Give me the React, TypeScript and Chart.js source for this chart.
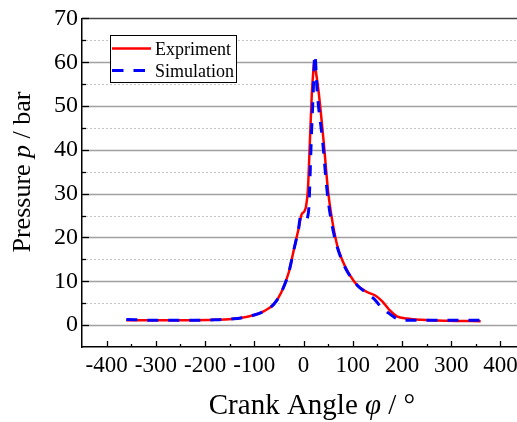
import React, { useEffect, useRef } from "react";
import { Chart, registerables } from "chart.js";
Chart.register(...registerables);

// ---- data ----
const expAngles = [-360, -300, -240, -180, -135, -100, -80, -60, -45, -30, -20, -10, -4, 2, 5, 9, 13, 17, 20, 22, 25, 31, 41, 50, 56, 68, 80, 90, 110, 130, 145, 160, 175, 190, 210, 240, 290, 360];
const expPressure = [1.1, 1.1, 1.1, 1.2, 1.5, 2.3, 3.2, 4.8, 7.5, 12, 17, 22, 25.2, 26, 27, 31, 42, 53, 58, 60.3, 58, 53, 41.8, 30.5, 25.5, 18.4, 14.5, 12.2, 9.0, 7.5, 6.8, 5.4, 3.4, 2.0, 1.5, 1.2, 1.0, 0.9];
const simAngles = [-360, -300, -240, -180, -135, -100, -80, -60, -45, -30, -20, -10, -6, 0, 6, 9, 11, 15.6, 19.7, 23, 28, 39, 48, 56, 68, 80, 90, 110, 130, 145, 156, 170, 183, 197, 240, 300, 360];
const simPressure = [1.3, 1.1, 1.1, 1.2, 1.5, 2.3, 3.2, 4.8, 7.5, 12, 17, 22, 24.8, 24.5, 24.1, 25, 27, 41.8, 53, 61.7, 53, 41.8, 30.5, 24, 18, 14.3, 12, 9, 7.2, 5.8, 4.3, 3.0, 1.9, 1.1, 1.1, 1.1, 1.1];
const seriesNames = ["Expriment", "Simulation"];
const seriesColors = ["#ff0000", "#0000ff"];
const xTickValues = [-400, -300, -200, -100, 0, 100, 200, 300, 400];
const yTickValues = [0, 10, 20, 30, 40, 50, 60, 70];
const xTitleParts = [["Crank Angle ", false], ["φ", true], [" / °", false]] as [string, boolean][];
const yTitleParts = [["Pressure ", false], ["p", true], [" / bar", false]] as [string, boolean][];

const FONT = '"Liberation Serif", "Times New Roman", serif';

function drawParts(ctx: CanvasRenderingContext2D, parts: [string, boolean][], size: number, cx: number, y: number) {
  const fonts = parts.map(([, it]) => `${it ? "italic " : ""}${size}px ${FONT}`);
  let total = 0;
  const widths = parts.map(([t], i) => {
    ctx.font = fonts[i];
    const w = ctx.measureText(t).width;
    total += w;
    return w;
  });
  let x = cx - total / 2;
  ctx.textAlign = "left";
  ctx.textBaseline = "alphabetic";
  parts.forEach(([t], i) => {
    ctx.font = fonts[i];
    ctx.fillText(t, x, y);
    x += widths[i];
  });
}

const framePlugin = {
  id: "framePlugin",
  beforeDatasetsDraw(chart: any) {
    const { ctx, chartArea, scales } = chart;
    const y = scales.y;
    ctx.save();
    for (let v = 0; v < 70; v += 5) {
      const py = Math.round(y.getPixelForValue(v)) + 0.5;
      ctx.beginPath();
      if (v % 10 === 0) {
        ctx.strokeStyle = "#a0a0a0";
        ctx.lineWidth = 1.4;
        ctx.setLineDash([]);
      } else {
        ctx.strokeStyle = "#c4c4c4";
        ctx.lineWidth = 1;
        ctx.setLineDash([2, 2]);
      }
      ctx.moveTo(chartArea.left, py);
      ctx.lineTo(chartArea.right, py);
      ctx.stroke();
    }
    ctx.restore();
  },
  afterDraw(chart: any) {
    const { ctx, chartArea, scales } = chart;
    const x = scales.x;
    const y = scales.y;
    ctx.save();
    ctx.setLineDash([]);
    // top frame
    ctx.strokeStyle = "#444";
    ctx.lineWidth = 1.5;
    const topY = y.getPixelForValue(70);
    ctx.beginPath();
    ctx.moveTo(chartArea.left, topY);
    ctx.lineTo(chartArea.right, topY);
    ctx.stroke();
    // ticks
    ctx.strokeStyle = "#000";
    ctx.lineWidth = 1.3;
    for (let v = 0; v <= 70; v += 5) {
      const py = Math.round(y.getPixelForValue(v)) + 0.5;
      const len = v % 10 === 0 ? 7 : 4;
      ctx.beginPath();
      ctx.moveTo(chartArea.left, py);
      ctx.lineTo(chartArea.left + len, py);
      ctx.stroke();
    }
    for (let v = -400; v <= 450; v += 50) {
      const px = Math.round(x.getPixelForValue(v)) + 0.5;
      const len = v % 100 === 0 ? 6 : 3;
      ctx.beginPath();
      ctx.moveTo(px, chartArea.bottom);
      ctx.lineTo(px, chartArea.bottom - len);
      ctx.stroke();
    }
    // legend
    const lx = 110.5, ly = 35.5, lw = 126, lh = 47;
    ctx.fillStyle = "#fff";
    ctx.fillRect(lx, ly, lw, lh);
    ctx.strokeStyle = "#000";
    ctx.lineWidth = 1;
    ctx.strokeRect(lx, ly, lw, lh);
    ctx.lineWidth = 2.5;
    ctx.strokeStyle = seriesColors[0];
    ctx.beginPath();
    ctx.moveTo(112, 48.5);
    ctx.lineTo(151, 48.5);
    ctx.stroke();
    ctx.strokeStyle = seriesColors[1];
    ctx.lineWidth = 3;
    ctx.setLineDash([11.5, 10]);
    ctx.beginPath();
    ctx.moveTo(112, 70.5);
    ctx.lineTo(146, 70.5);
    ctx.stroke();
    ctx.setLineDash([]);
    ctx.fillStyle = "#000";
    ctx.font = `18px ${FONT}`;
    ctx.textAlign = "left";
    ctx.textBaseline = "alphabetic";
    ctx.fillText(seriesNames[0], 155, 54.5);
    ctx.fillText(seriesNames[1], 155, 76.5);
    // titles
    drawParts(ctx, xTitleParts, 29, 312, 414);
    ctx.translate(30, 172);
    ctx.rotate(-Math.PI / 2);
    drawParts(ctx, yTitleParts, 26, 0, 0);
    ctx.restore();
  },
};

export default function App() {
  const ref = useRef<HTMLCanvasElement | null>(null);
  useEffect(() => {
    document.body.style.margin = "0";
    const canvas = ref.current!;
    const chart = new Chart(canvas, {
      type: "line",
      data: {
        datasets: [
          {
            label: seriesNames[1],
            data: simAngles.map((a, i) => ({ x: a, y: simPressure[i] })),
            borderColor: seriesColors[1],
            borderWidth: 3,
            borderDash: [11, 10],
            pointRadius: 0,
            cubicInterpolationMode: "monotone",
            fill: false,
            order: 0,
          },
          {
            label: seriesNames[0],
            data: expAngles.map((a, i) => ({ x: a, y: expPressure[i] })),
            borderColor: seriesColors[0],
            borderWidth: 2.5,
            pointRadius: 0,
            cubicInterpolationMode: "monotone",
            fill: false,
            order: 1,
          },
        ],
      },
      options: {
        responsive: false,
        animation: false,
        events: [],
        layout: { padding: { top: 16, right: 5, left: 0, bottom: 0 } },
        plugins: { legend: { display: false }, tooltip: { enabled: false } },
        scales: {
          x: {
            type: "linear",
            min: -450,
            max: 450,
            afterBuildTicks: (s: any) => {
              s.ticks = xTickValues.map((v) => ({ value: v }));
            },
            afterFit: (s: any) => {
              s.height = 75;
            },
            ticks: {
              autoSkip: false,
              maxRotation: 0,
              color: "#000",
              padding: 5,
              font: { family: FONT, size: 23 },
              callback: (v: any) => String(v),
            },
            grid: { display: false, drawTicks: false },
            border: { display: true, color: "#000", width: 1.5 },
          },
          y: {
            type: "linear",
            min: -5,
            max: 70,
            afterBuildTicks: (s: any) => {
              s.ticks = yTickValues.map((v) => ({ value: v }));
            },
            afterFit: (s: any) => {
              s.width = 82;
            },
            ticks: {
              autoSkip: false,
              color: "#000",
              padding: 4,
              font: { family: FONT, size: 24 },
              callback: (v: any) => String(v),
            },
            grid: { display: false, drawTicks: false },
            border: { display: true, color: "#000", width: 1.5 },
          },
        },
      },
      plugins: [framePlugin],
    } as any);
    return () => chart.destroy();
  }, []);
  return (
    <div style={{ position: "absolute", left: 0, top: 0, width: 517, height: 422, overflow: "hidden", background: "#fff" }}>
      <canvas ref={ref} width={530} height={422} style={{ display: "block" }} />
    </div>
  );
}
